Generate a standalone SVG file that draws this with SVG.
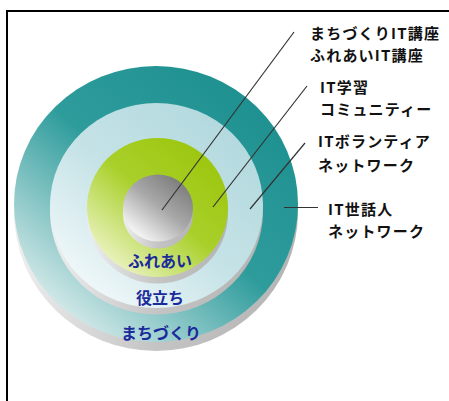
<svg xmlns="http://www.w3.org/2000/svg" width="449" height="401" viewBox="0 0 449 401">
<defs>
<linearGradient id="gTeal" x1="0.85" y1="0.1" x2="0.1" y2="0.95">
<stop offset="0" stop-color="#1e9090"/>
<stop offset="0.45" stop-color="#2f9c9c"/>
<stop offset="1" stop-color="#eef5f5"/>
</linearGradient>
<linearGradient id="gBlue" x1="0.85" y1="0.1" x2="0.1" y2="0.95">
<stop offset="0" stop-color="#b2d9de"/>
<stop offset="0.5" stop-color="#c6e3e7"/>
<stop offset="1" stop-color="#f7fbfc"/>
</linearGradient>
<linearGradient id="gGreen" x1="0.85" y1="0.1" x2="0.1" y2="0.95">
<stop offset="0" stop-color="#9cc60e"/>
<stop offset="0.45" stop-color="#a9d02a"/>
<stop offset="1" stop-color="#f3f8d6"/>
</linearGradient>
<linearGradient id="gGray" x1="0.85" y1="0.1" x2="0.15" y2="0.95">
<stop offset="0" stop-color="#7c7c7c"/>
<stop offset="0.45" stop-color="#a8a8a8"/>
<stop offset="1" stop-color="#ffffff"/>
</linearGradient>
<linearGradient id="gSide" x1="0" y1="0" x2="1" y2="0">
<stop offset="0" stop-color="#eeeeee"/>
<stop offset="0.5" stop-color="#c4c4c4"/>
<stop offset="1" stop-color="#b4b4b4"/>
</linearGradient>
<style>
.lbl{font-family:"Noto Sans CJK JP","Noto Sans",sans-serif;font-weight:bold;font-size:15px;letter-spacing:1.2px;fill:#111}
.in{font-family:"Noto Sans CJK JP","Noto Sans",sans-serif;font-weight:bold;font-size:16px;fill:#1a2a9a;text-anchor:middle}
.con{stroke:#333;stroke-width:1.2;fill:none}
</style>
</defs>
<rect x="7" y="11" width="460" height="400" fill="#fff" stroke="#000" stroke-width="2"/>
<g id="ring-outer">
<ellipse cx="156" cy="212" rx="142" ry="139" fill="url(#gSide)"/>
<ellipse cx="156" cy="204" rx="142" ry="138" fill="url(#gTeal)"/>
</g>
<g id="ring-middle">
<ellipse cx="156.5" cy="211.5" rx="106.5" ry="103" fill="url(#gSide)"/>
<ellipse cx="156.5" cy="205.5" rx="106.5" ry="102.5" fill="url(#gBlue)"/>
</g>
<g id="ring-green">
<ellipse cx="157.5" cy="213.5" rx="70.5" ry="70" fill="url(#gSide)"/>
<ellipse cx="157.5" cy="207.5" rx="70.5" ry="69.5" fill="url(#gGreen)"/>
</g>
<g id="core">
<ellipse cx="158" cy="214.5" rx="35" ry="34" fill="url(#gSide)"/>
<ellipse cx="158" cy="208" rx="35" ry="33.5" fill="url(#gGray)"/>
</g>
<g id="inner-labels">
<text class="in" x="160" y="267">ふれあい</text>
<text class="in" x="160" y="304">役立ち</text>
<text class="in" x="161" y="339">まちづくり</text>
</g>
<g id="connectors">
<line class="con" x1="162" y1="210" x2="294" y2="32"/>
<line class="con" x1="213" y1="207" x2="307" y2="86"/>
<line class="con" x1="250" y1="209" x2="305" y2="143"/>
<line class="con" x1="284" y1="207.5" x2="318" y2="207.5"/>
</g>
<g id="label-1">
<text class="lbl" x="310" y="39">まちづくりIT講座</text>
<text class="lbl" x="310" y="61">ふれあいIT講座</text>
</g>
<g id="label-2">
<text class="lbl" x="320" y="93">IT学習</text>
<text class="lbl" x="320" y="115">コミュニティー</text>
</g>
<g id="label-3">
<text class="lbl" x="318" y="147">ITボランティア</text>
<text class="lbl" x="318" y="171">ネットワーク</text>
</g>
<g id="label-4">
<text class="lbl" x="328" y="215">IT世話人</text>
<text class="lbl" x="328" y="237">ネットワーク</text>
</g>
</svg>
